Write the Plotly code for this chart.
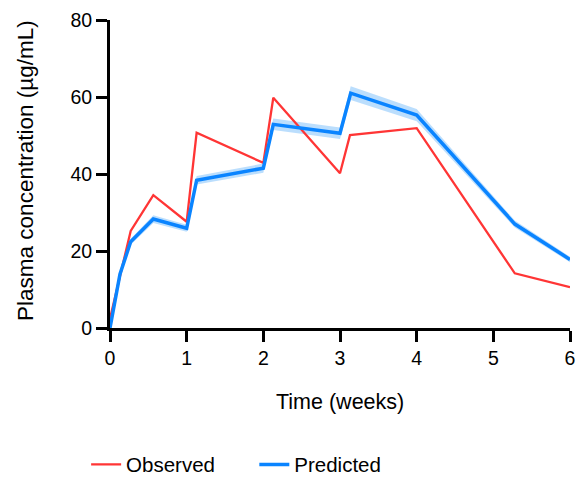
import plotly.graph_objects as go

obs_t = [0, 0.27, 0.565, 1.0, 1.13, 2.0, 2.13, 3.0, 3.13, 4.0, 5.28, 6.0]
obs_c = [2.5, 25.2, 34.5, 27.6, 50.7, 42.9, 59.8, 40.2, 50.1, 51.9, 14.2, 10.6]

pred_t = [0, 0.13, 0.27, 0.565, 1.0, 1.13, 2.0, 2.13, 3.0, 3.14, 4.0, 5.28, 6.0]
pred_c = [0, 14.0, 22.4, 28.3, 25.9, 38.4, 41.5, 52.9, 50.6, 61.0, 55.3, 27.0, 17.8]
pred_hw = [0.3, 0.6, 0.8, 1.0, 0.9, 1.1, 1.2, 1.5, 1.5, 1.8, 1.6, 0.9, 0.7]

upper = [c + h for c, h in zip(pred_c, pred_hw)]
lower = [c - h for c, h in zip(pred_c, pred_hw)]

font = "Liberation Sans, Arial, sans-serif"
fig = go.Figure()
fig.add_trace(go.Scatter(x=pred_t, y=upper, mode="lines", line=dict(width=0),
                         showlegend=False, hoverinfo="skip"))
fig.add_trace(go.Scatter(x=pred_t, y=lower, mode="lines", line=dict(width=0),
                         fill="tonexty", fillcolor="rgba(60,160,250,0.35)",
                         showlegend=False, hoverinfo="skip"))
fig.add_trace(go.Scatter(x=obs_t, y=obs_c, mode="lines", name="Observed",
                         line=dict(color="#ff3535", width=2.3), legend="legend"))
fig.add_trace(go.Scatter(x=pred_t, y=pred_c, mode="lines", name="Predicted",
                         line=dict(color="#0a84ff", width=3.5), legend="legend2"))

axis_common = dict(showline=True, linecolor="black", linewidth=3, ticks="outside",
                   ticklen=11, tickwidth=3, tickcolor="black", showgrid=False,
                   zeroline=False, automargin=False,
                   tickfont=dict(family=font, size=19.5, color="black"))
fig.update_xaxes(range=[0, 6], tickvals=[0, 1, 2, 3, 4, 5, 6], **axis_common)
fig.update_yaxes(range=[0, 80], tickvals=[0, 20, 40, 60, 80], **axis_common)

fig.add_annotation(text="Time (weeks)", xref="paper", yref="paper", x=0.501, y=-0.240,
                   xanchor="center", yanchor="middle", showarrow=False,
                   font=dict(family=font, size=21.5, color="black"))
fig.add_annotation(text="Plasma concentration (µg/mL)", xref="paper", yref="paper",
                   x=-0.1826, y=0.51, xanchor="center", yanchor="middle", textangle=-90,
                   showarrow=False, font=dict(family=font, size=22.5, color="black"))

leg_common = dict(orientation="h", yref="container", xref="container",
                  yanchor="middle", y=0.026, xanchor="left",
                  font=dict(family=font, size=20.5, color="black"),
                  bgcolor="rgba(0,0,0,0)")
fig.update_layout(width=578, height=477, margin=dict(l=110, r=8, t=20, b=149),
                  plot_bgcolor="white", paper_bgcolor="white",
                  legend=dict(x=0.149, **leg_common),
                  legend2=dict(x=0.440, **leg_common),
                  showlegend=True)
fig.write_html("out.html")
